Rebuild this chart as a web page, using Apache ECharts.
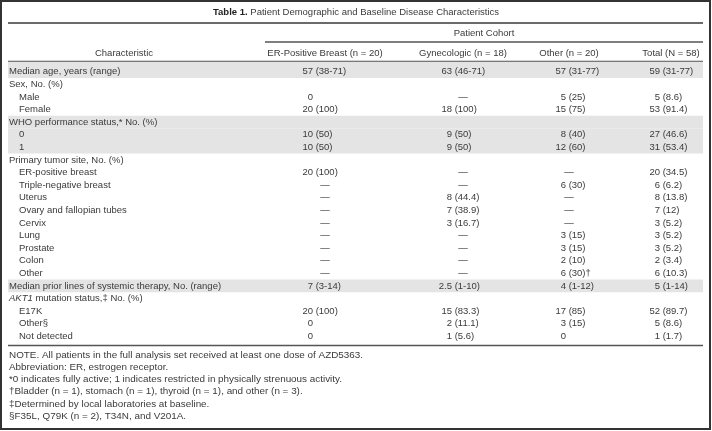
<!DOCTYPE html>
<html>
<head>
<meta charset="utf-8">
<script src="https://cdn.jsdelivr.net/npm/echarts@6/dist/echarts.min.js"></script>
<style>
html,body{margin:0;padding:0;background:#fff;}
#chart{width:712px;height:431px;}
</style>
</head>
<body>
<div id="chart"></div>
<script>
// ---------------- DATA ----------------
const tableTitleBold = 'Table 1.';
const tableTitleRest = 'Patient Demographic and Baseline Disease Characteristics';
const spannerHeader = 'Patient Cohort';
const columnHeaders = ['Characteristic', 'ER-Positive Breast (n = 20)', 'Gynecologic (n = 18)', 'Other (n = 20)', 'Total (N = 58)'];

const rowLabels = [
  'Median age, years (range)',
  'Sex, No. (%)',
  'Male',
  'Female',
  'WHO performance status,* No. (%)',
  '0',
  '1',
  'Primary tumor site, No. (%)',
  'ER-positive breast',
  'Triple-negative breast',
  'Uterus',
  'Ovary and fallopian tubes',
  'Cervix',
  'Lung',
  'Prostate',
  'Colon',
  'Other',
  'Median prior lines of systemic therapy, No. (range)',
  '{i|AKT1} mutation status,\u2021 No. (%)',
  'E17K',
  'Other\u00a7',
  'Not detected'
];
const rowLevel = [0,0,1,1,0,1,1,0,1,1,1,1,1,1,1,1,1,0,0,1,1,1];

const erPositiveBreast = ['57 (38-71)', '', '0', '20 (100)', '', '10 (50)', '10 (50)', '', '20 (100)', '—', '—', '—', '—', '—', '—', '—', '—', '7 (3-14)', '', '20 (100)', '0', '0'];
const gynecologic = ['63 (46-71)', '', '—', '18 (100)', '', '9 (50)', '9 (50)', '', '—', '—', '8 (44.4)', '7 (38.9)', '3 (16.7)', '—', '—', '—', '—', '2.5 (1-10)', '', '15 (83.3)', '2 (11.1)', '1 (5.6)'];
const otherCohort = ['57 (31-77)', '', '5 (25)', '15 (75)', '', '8 (40)', '12 (60)', '', '—', '6 (30)', '—', '—', '—', '3 (15)', '3 (15)', '2 (10)', '6 (30)\u2020', '4 (1-12)', '', '17 (85)', '3 (15)', '0'];
const totalCohort = ['59 (31-77)', '', '5 (8.6)', '53 (91.4)', '', '27 (46.6)', '31 (53.4)', '', '20 (34.5)', '6 (6.2)', '8 (13.8)', '7 (12)', '3 (5.2)', '3 (5.2)', '3 (5.2)', '2 (3.4)', '6 (10.3)', '5 (1-14)', '', '52 (89.7)', '5 (8.6)', '1 (1.7)'];

const shadedRows = [0, 4, 5, 6, 17];

const footnotes = [
  'NOTE. All patients in the full analysis set received at least one dose of AZD5363.',
  'Abbreviation: ER, estrogen receptor.',
  '*0 indicates fully active; 1 indicates restricted in physically strenuous activity.',
  '\u2020Bladder (n = 1), stomach (n = 1), thyroid (n = 1), and other (n = 3).',
  '\u2021Determined by local laboratories at baseline.',
  '\u00a7F35L, Q79K (n = 2), T34N, and V201A.'
];

// ---------------- LAYOUT / STYLE ----------------
const cohortColumns = [erPositiveBreast, gynecologic, otherCohort, totalCohort];
const colAnchor = [313, 452, 566, 660];
const colCenter = [325, 463, 569, 671];
const FONT_FAMILY = '"Liberation Sans", Arial, Helvetica, sans-serif';
const FS = 9.5;
const FS_NOTE = 9.9;
const TXT = '#3a3a3a';
const LINE = '#555';
const X0 = 8, X1 = 703;
const GRID_TOP = 65.4, ROW_H = 12.6;

const chart = echarts.init(document.getElementById('chart'), null, {renderer: 'canvas'});

const cellData = [];
cohortColumns.forEach((col, c) => {
  col.forEach((v, r) => { if (v !== '') cellData.push([colAnchor[c], r, c]); });
});
const labelData = rowLabels.map((t, r) => [rowLevel[r] ? 19 : 9, r]);
const shadeData = shadedRows.map(r => [X0, r]);

function txtStyle(extra) {
  return Object.assign({fill: TXT, fontSize: FS, fontFamily: FONT_FAMILY, textVerticalAlign: 'middle'}, extra);
}

const graphics = [
  {type: 'rect', shape: {x: 1, y: 1, width: 709, height: 428}, style: {fill: 'none', stroke: '#333', lineWidth: 2}, silent: true},
  {type: 'line', shape: {x1: X0, y1: 23, x2: X1, y2: 23}, style: {stroke: '#6a6a6a', lineWidth: 2}},
  {type: 'line', shape: {x1: 265, y1: 42, x2: X1, y2: 42}, style: {stroke: LINE, lineWidth: 1.3}},
  {type: 'line', shape: {x1: X0, y1: 61.5, x2: X1, y2: 61.5}, style: {stroke: LINE, lineWidth: 1.3}},
  {type: 'line', shape: {x1: X0, y1: 345.5, x2: X1, y2: 345.5}, style: {stroke: LINE, lineWidth: 1.3}},
  {type: 'text', x: 356, y: 12, style: txtStyle({
    text: '{b|' + tableTitleBold + '} ' + tableTitleRest, textAlign: 'center',
    rich: {b: {fontWeight: 'bold', fontSize: FS, fontFamily: FONT_FAMILY, fill: '#222'}}
  })},
  {type: 'text', x: 484, y: 33, style: txtStyle({text: spannerHeader, textAlign: 'center'})},
  {type: 'text', x: 124, y: 53, style: txtStyle({text: columnHeaders[0], textAlign: 'center'})}
];
for (let c = 1; c < columnHeaders.length; c++) {
  graphics.push({type: 'text', x: colCenter[c - 1], y: 53, style: txtStyle({text: columnHeaders[c], textAlign: 'center'})});
}
footnotes.forEach((f, i) => {
  graphics.push({type: 'text', x: 9, y: 355 + i * 12.2, style: txtStyle({text: f, textAlign: 'left', fontSize: FS_NOTE})});
});

const option = {
  animation: false,
  backgroundColor: '#fff',
  grid: {left: 0, right: 0, top: GRID_TOP, height: ROW_H * rowLabels.length},
  xAxis: {type: 'value', min: 0, max: 712, show: false},
  yAxis: {type: 'category', data: rowLabels.map((_, i) => i), inverse: true, show: false, boundaryGap: true},
  series: [
    {
      type: 'custom', name: 'shade', silent: true, z: 1,
      data: shadeData,
      renderItem: function (params, api) {
        const r = api.value(1);
        const p0 = api.coord([X0, r]);
        const p1 = api.coord([X1, r]);
        const h = api.size([0, 1])[1];
        let top = p0[1] - h / 2;
        let height = h;
        if (r === 0) { top -= 3.6; height += 3.6; }
        return {type: 'rect', shape: {x: p0[0], y: top, width: p1[0] - p0[0], height: height}, style: {fill: '#e4e4e4'}};
      }
    },
    {
      type: 'custom', name: 'labels', silent: true, z: 3,
      data: labelData,
      renderItem: function (params, api) {
        const r = api.value(1);
        const p = api.coord([api.value(0), r]);
        return {type: 'text', x: p[0], y: p[1], style: txtStyle({
          text: rowLabels[r], textAlign: 'left',
          rich: {i: {fontStyle: 'italic', fontSize: FS, fontFamily: FONT_FAMILY, fill: TXT}}
        })};
      }
    },
    {
      type: 'custom', name: 'cells', silent: true, z: 3,
      data: cellData,
      renderItem: function (params, api) {
        const r = api.value(1);
        const c = api.value(2);
        const t = cohortColumns[c][r];
        const p = api.coord([api.value(0), r]);
        if (t === '—') {
          const pc = api.coord([colCenter[c], r]);
          return {type: 'text', x: pc[0], y: pc[1], style: txtStyle({text: t, textAlign: 'center'})};
        }
        const k = t.indexOf(' ');
        const num = k < 0 ? t : t.slice(0, k);
        const rest = k < 0 ? '' : t.slice(k);
        return {type: 'group', children: [
          {type: 'text', x: p[0], y: p[1], style: txtStyle({text: num, textAlign: 'right'})},
          {type: 'text', x: p[0], y: p[1], style: txtStyle({text: rest, textAlign: 'left'})}
        ]};
      }
    }
  ],
  graphic: graphics
};
chart.setOption(option);
</script>
</body>
</html>
